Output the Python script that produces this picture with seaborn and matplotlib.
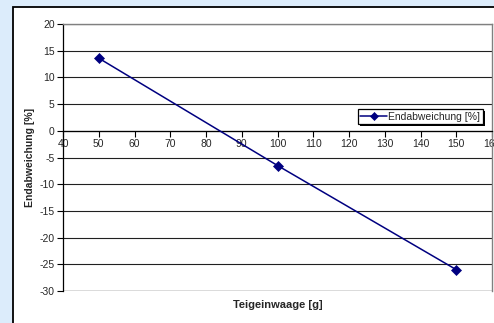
import matplotlib
matplotlib.use("Agg")
import matplotlib.pyplot as plt
import seaborn as sns
import pandas as pd
from matplotlib.patches import Rectangle

# Data
teigeinwaage = [50, 100, 150]
endabweichung = [13.6, -6.5, -26.0]
series_label = "Endabweichung [%]"
x_ticks = [40, 50, 60, 70, 80, 90, 100, 110, 120, 130, 140, 150, 160]
y_ticks = [-30, -25, -20, -15, -10, -5, 0, 5, 10, 15, 20]

df = pd.DataFrame({"x": teigeinwaage, "y": endabweichung})

sns.set_style("white")
plt.rcParams['font.family'] = ['Liberation Sans', 'DejaVu Sans']

W, H = 494, 323
fig = plt.figure(figsize=(W / 100, H / 100), dpi=100)
fig.patch.set_facecolor('#dcecfb')

# white chart area with black border
rect = Rectangle((13 / W, -0.05), 1.1, 1 - 7 / H + 0.05,
                 transform=fig.transFigure, facecolor='white',
                 edgecolor='black', linewidth=1.3, zorder=-5)
fig.add_artist(rect)

ax = fig.add_axes([63 / W, 1 - 291 / H, (492 - 63) / W, (291 - 24) / H])
ax.set_zorder(5)
ax.set_facecolor('white')

sns.lineplot(data=df, x="x", y="y", marker='D', markersize=5, color='#000080',
             markeredgecolor='#000080', markeredgewidth=0.5, linewidth=1.1,
             label=series_label, ax=ax, clip_on=False, zorder=5)

ax.set_xlim(40, 160)
ax.set_ylim(-30, 20)
ax.set_xticks(x_ticks)
ax.set_yticks(y_ticks)
ax.set_xticklabels([str(v) for v in x_ticks])
ax.set_yticklabels([str(v) for v in y_ticks])

ax.yaxis.grid(True, color='#202020', linewidth=0.8)
ax.xaxis.grid(False)
ax.set_axisbelow(True)

for s in ['top', 'right']:
    ax.spines[s].set_color('#808080')
    ax.spines[s].set_linewidth(1.0)
ax.spines['left'].set_color('black')
ax.spines['left'].set_linewidth(0.9)
ax.spines['bottom'].set_position(('data', 0))
ax.spines['bottom'].set_color('black')
ax.spines['bottom'].set_linewidth(0.9)
# bottom frame line of plot area
ax.axhline(-30, color='#808080', linewidth=1.0, zorder=1)

ax.tick_params(axis='both', direction='out', length=4, width=0.8, color='black',
               pad=2, bottom=True, left=True, labelsize=7.5)

ax.set_xlabel("Teigeinwaage [g]", fontsize=8, fontweight='bold')
ax.set_ylabel("Endabweichung [%]", fontsize=7.5, fontweight='bold')
ax.xaxis.set_label_coords(0.5, -0.034)
ax.yaxis.set_label_coords(-0.065, 0.5)

leg = ax.legend(loc='upper right', bbox_to_anchor=(483 / W, 1 - 109 / H),
                bbox_transform=fig.transFigure, fontsize=7.5, frameon=True,
                fancybox=False, shadow=False, markerscale=0.8, framealpha=1,
                facecolor='white', edgecolor='black',
                handlelength=2.6, borderpad=0.25, borderaxespad=0,
                handletextpad=0.1)
leg.get_frame().set_linewidth(0.9)
leg.set_zorder(10)

# thin black drop shadow of the legend box
fig.canvas.draw()
bb = leg.get_frame().get_window_extent()
shadow = Rectangle((bb.x0 + 2, bb.y0 - 2), bb.width, bb.height, transform=None,
                   facecolor='black', edgecolor='black', linewidth=0, zorder=9)
ax.add_artist(shadow)

fig.savefig("out.png", dpi=100, facecolor=fig.get_facecolor())
